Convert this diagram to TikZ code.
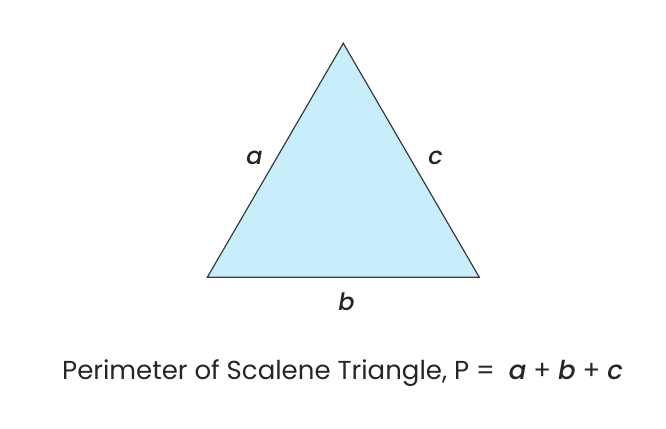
\documentclass[tikz,border=0pt]{standalone}
\usepackage{fontspec}
\setmainfont{Poppins}
\newfontfamily\sidefont{Poppins Medium Italic}
\usepackage{tikz}
\usetikzlibrary{positioning}
\definecolor{triblue}{HTML}{C8EEFC}
\definecolor{edgegray}{HTML}{3A3A3A}
\definecolor{textgray}{HTML}{262626}
\tikzset{
  side/.style={text=textgray,font=\fontsize{24}{28}\selectfont\sidefont,inner sep=0pt},
  caption/.style={text=textgray,font=\fontsize{26}{30}\selectfont,inner sep=0pt,anchor=base west},
}

\begin{document}
\begin{tikzpicture}[x=1pt,y=-1pt,line join=miter]
            \useasboundingbox (0,0) rectangle (666,428);
            %
            \coordinate (top) at (343.3,43.3);
            \coordinate (left) at (207.3,277.3);
            \coordinate (right) at (479.3,277.3);
            \filldraw [fill=triblue,draw=edgegray,line width=1.2pt] (top) -- (left) -- (right) -- cycle;
            %
            \node (a) at (254.5,157.5) [side] {a};
            \node (c) at (435.5,157.5) [side] {c};
            \node (b) at (346.5,301.5) [side] {b};
            %
            \node (perimeter) at (62,379.3) [caption] {Perimeter of Scalene Triangle, P =\ \ {\sidefont a} + {\sidefont b} + {\sidefont c}};
            %
        \end{tikzpicture}
\end{document}
